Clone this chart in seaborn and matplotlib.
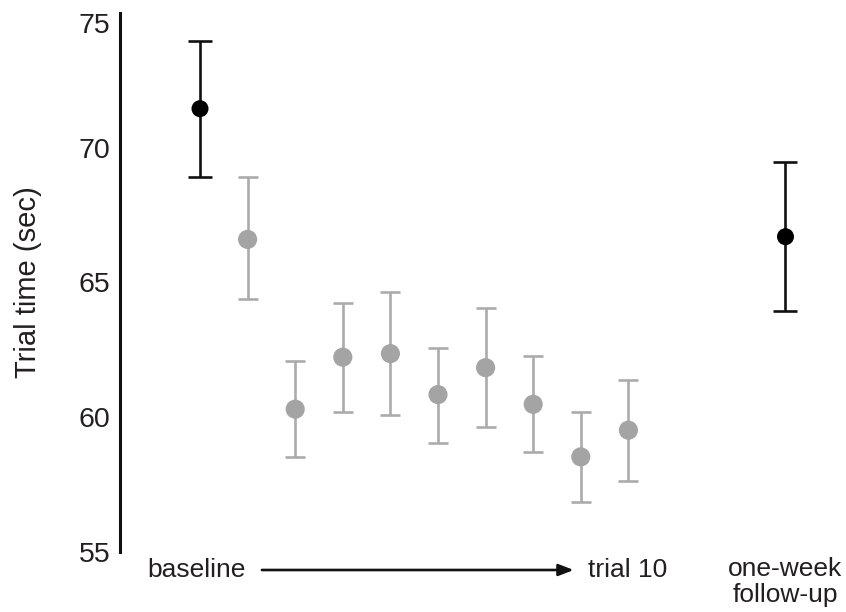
import matplotlib
matplotlib.use("Agg")
import matplotlib.pyplot as plt
import seaborn as sns
import pandas as pd
import numpy as np

# ---- data ----
session = [0, 1, 2, 3, 4, 5, 6, 7, 8, 9, 12.3]
group = ["anchor"] + ["trial"] * 9 + ["anchor"]
mean_time = [71.45, 66.6, 60.3, 62.23, 62.36, 60.84, 61.84, 60.48, 58.53, 59.52, 66.7]
err_upper = [73.95, 68.9, 62.1, 64.25, 64.64, 62.58, 64.05, 62.27, 60.2, 61.4, 69.48]
err_lower = [68.9, 64.37, 58.53, 60.2, 60.1, 59.03, 59.62, 58.71, 56.86, 57.64, 63.96]
y_ticks = [55, 60, 65, 70, 75]
y_label = "Trial time (sec)"
start_label = "baseline"
end_label = "trial 10"
followup_label = "one-week\nfollow-up"

df = pd.DataFrame({"session": session, "group": group, "time": mean_time,
                   "hi": err_upper, "lo": err_lower})

sns.set_style("white")
plt.rcParams["font.family"] = ["Liberation Sans", "DejaVu Sans"]
text_color = "#231f20"

fig = plt.figure(figsize=(8.46, 6.12), dpi=100)
W, H = 846, 612
ax_left, ax_right, ax_top, ax_bottom = 120, 846, 13, 552
ax = fig.add_axes([ax_left / W, 1 - ax_bottom / H, (ax_right - ax_left) / W, (ax_bottom - ax_top) / H])

colors = {"anchor": "#000000", "trial": "#a4a4a4"}
bar_colors = {"anchor": "#111111", "trial": "#ababab"}
caps = {"anchor": 8.3, "trial": 7.5}
for g, sub in df.groupby("group"):
    ax.errorbar(sub["session"], sub["time"],
                yerr=[sub["time"] - sub["lo"], sub["hi"] - sub["time"]],
                fmt="none", ecolor=bar_colors[g], elinewidth=1.9,
                capsize=caps[g], capthick=1.9, zorder=2)

sns.scatterplot(data=df, x="session", y="time", hue="group", palette=colors,
                size="group", sizes={"anchor": 150, "trial": 190},
                edgecolor="none", legend=False, ax=ax, zorder=3)

ax.set_ylim(55, 75)
ax.set_xlim(-80 / 47.6, 646 / 47.6)
ax.set_yticks(y_ticks)
ax.set_yticklabels([str(t) for t in y_ticks])
ax.set_xticks([])
ax.set_xlabel("")
ax.tick_params(axis="y", length=0, pad=7, labelsize=20.5, labelcolor=text_color)
ax.get_yticklabels()[-1].set_verticalalignment("top")

for s in ["top", "right", "bottom"]:
    ax.spines[s].set_visible(False)
ax.spines["left"].set_linewidth(2.2)
ax.spines["left"].set_color("#111111")

ax.set_ylabel(y_label, fontsize=21, color=text_color)
ax.yaxis.set_label_coords(-0.107, 0.5)

trans = ax.get_xaxis_transform()
y_row = -18 / 539
ax.annotate("", xy=(7.85, y_row), xytext=(1.3, y_row), xycoords=trans, textcoords=trans,
            arrowprops=dict(arrowstyle="-|>,head_length=0.9,head_width=0.35",
                            color="#111111", lw=1.9, shrinkA=0, shrinkB=0))
ax.text(0.95, y_row, start_label, transform=trans, ha="right", va="center",
        fontsize=19, color=text_color)
ax.text(8.15, y_row, end_label, transform=trans, ha="left", va="center",
        fontsize=19, color=text_color)
ax.text(12.29, -30 / 539, followup_label, transform=trans, ha="center", va="center",
        fontsize=19, color=text_color, linespacing=1.15)

fig.savefig("out.png", dpi=100)
